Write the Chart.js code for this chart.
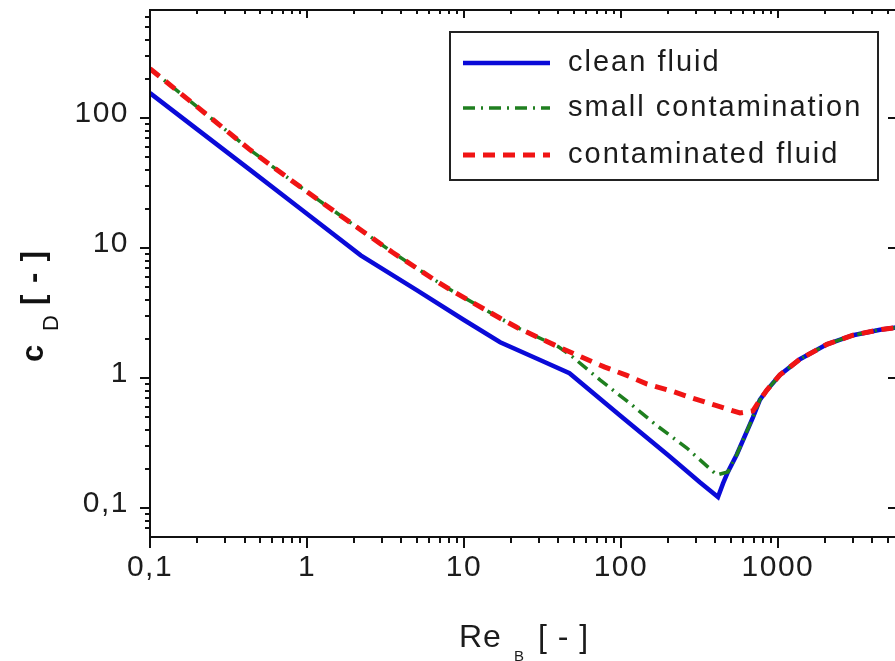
<!DOCTYPE html>
<html>
<head>
<meta charset="utf-8">
<title>cD over ReB</title>
<script src="https://cdn.jsdelivr.net/npm/chart.js@4.4.1/dist/chart.umd.min.js"></script>
<style>
  html, body { margin: 0; padding: 0; background: #fff; overflow: hidden; }
  #wrap { width: 895px; height: 661px; overflow: hidden; }
  canvas { display: block; }
</style>
</head>
<body>
<div id="wrap"><canvas id="cd" width="898" height="661"></canvas></div>
<script>
// values
const seriesLabels = ["clean fluid", "small contamination", "contaminated fluid"];

const reClean = [0.1, 0.2, 0.434, 0.9, 2.2, 5, 10, 17, 30, 47, 100, 200, 318, 415, 447, 480, 548, 693, 767, 851, 1030, 1380, 2050, 3010, 4470, 5650];
const cdClean = [156, 82, 40, 20.3, 8.8, 4.75, 2.8, 1.89, 1.39, 1.09, 0.51, 0.255, 0.158, 0.122, 0.155, 0.19, 0.26, 0.50, 0.68, 0.81, 1.06, 1.40, 1.82, 2.14, 2.36, 2.45];

const reSmall = [0.1, 0.2, 0.434, 0.8, 1.21, 1.88, 3.5, 6.35, 8.15, 16.9, 21.8, 40, 49.4, 73.5, 114, 170, 263, 408, 480, 548, 693, 767, 851, 1030, 1380, 2050, 3010, 4470, 5650];
const cdSmall = [240, 122, 57, 33, 23, 15.8, 9.3, 5.8, 4.8, 2.9, 2.45, 1.74, 1.45, 0.97, 0.64, 0.43, 0.29, 0.18, 0.19, 0.26, 0.50, 0.68, 0.81, 1.06, 1.40, 1.82, 2.14, 2.36, 2.45];

const reCont = [0.1, 0.2, 0.434, 0.8, 1.21, 1.88, 3.5, 6.35, 8.15, 16.9, 21.8, 40, 57, 79, 109, 147, 214, 288, 397, 573, 693, 767, 851, 1030, 1380, 2050, 3010, 4470, 5650];
const cdCont = [240, 122, 57, 33, 23, 15.8, 9.3, 5.8, 4.8, 2.9, 2.45, 1.74, 1.44, 1.215, 1.05, 0.90, 0.79, 0.70, 0.62, 0.54, 0.56, 0.68, 0.81, 1.06, 1.40, 1.82, 2.14, 2.36, 2.45];

const xTickValues = [0.1, 1, 10, 100, 1000];
const xTickLabels = ["0,1", "1", "10", "100", "1000"];
const yTickValues = [0.1, 1, 10, 100];
const yTickLabels = ["0,1", "1", "10", "100"];

const X_MIN = 0.1, X_MAX = 5650;
const Y_MIN = 0.06, Y_MAX = 679;

const pts = (xs, ys) => xs.map((x, i) => ({ x: x, y: ys[i] }));

function minorTicks(decades, lo, hi) {
  const out = [];
  decades.forEach(d => {
    for (let m = 2; m <= 9; m++) {
      const v = m * d;
      if (v > lo * 1.0001 && v < hi * 0.9999) out.push(v);
    }
  });
  return out;
}
const xMinor = minorTicks([0.1, 1, 10, 100, 1000], X_MIN, X_MAX);
const yMinor = minorTicks([0.01, 0.1, 1, 10, 100], Y_MIN, Y_MAX);

const INK = "#1c1c1c";

// frame + tick marks (out on left/bottom, in on top/right)
const frameTicks = {
  id: "frameTicks",
  beforeDraw(chart) {
    chart.ctx.letterSpacing = "1.5px";
  },
  afterDatasetsDraw(chart) {
    const { ctx, chartArea: a, scales: { x, y } } = chart;
    ctx.save();
    ctx.strokeStyle = "#111";
    ctx.lineWidth = 2;
    ctx.strokeRect(a.left, a.top, a.right - a.left, a.bottom - a.top);

    const tick = (x1, y1, x2, y2) => { ctx.moveTo(x1, y1); ctx.lineTo(x2, y2); };
    ctx.beginPath();
    xTickValues.forEach(v => {
      const px = Math.round(x.getPixelForValue(v));
      tick(px, a.bottom, px, a.bottom + 11);
      tick(px, a.top, px, a.top + 8);
    });
    xMinor.forEach(v => {
      const px = Math.round(x.getPixelForValue(v));
      tick(px, a.bottom, px, a.bottom + 6);
      tick(px, a.top, px, a.top + 4);
    });
    yTickValues.forEach(v => {
      const py = Math.round(y.getPixelForValue(v));
      tick(a.left, py, a.left - 10, py);
      tick(a.right, py, a.right - 8, py);
    });
    yMinor.forEach(v => {
      const py = Math.round(y.getPixelForValue(v));
      tick(a.left, py, a.left - 5, py);
    });
    ctx.stroke();
    ctx.restore();
  }
};

// boxed legend with line samples
const boxLegend = {
  id: "boxLegend",
  afterDatasetsDraw(chart) {
    const ctx = chart.ctx;
    const box = { left: 450, top: 32, right: 878, bottom: 180 };
    const rows = [63, 108, 155];
    ctx.save();
    ctx.fillStyle = "#fff";
    ctx.fillRect(box.left, box.top, box.right - box.left, box.bottom - box.top);
    ctx.strokeStyle = "#222";
    ctx.lineWidth = 2;
    ctx.strokeRect(box.left, box.top, box.right - box.left, box.bottom - box.top);

    seriesLabels.forEach((label, i) => {
      const ds = chart.data.datasets.find(d => d.label === label);
      ctx.beginPath();
      ctx.setLineDash(ds.borderDash || []);
      ctx.lineWidth = ds.borderWidth;
      ctx.strokeStyle = ds.borderColor;
      ctx.moveTo(463, rows[i]);
      ctx.lineTo(550, rows[i]);
      ctx.stroke();
      ctx.setLineDash([]);
      ctx.letterSpacing = "2px";
      ctx.font = "29px 'Liberation Sans', Arial, sans-serif";
      ctx.fillStyle = INK;
      ctx.textAlign = "left";
      ctx.textBaseline = "middle";
      ctx.fillText(label, 568, rows[i]);
    });
    ctx.restore();
  }
};

// axis titles with subscripts
const axisTitles = {
  id: "axisTitles",
  afterDraw(chart) {
    const ctx = chart.ctx;
    ctx.save();
    ctx.fillStyle = "#111";
    ctx.textAlign = "left";
    ctx.textBaseline = "alphabetic";

    // y: c_D [ - ]
    ctx.save();
    ctx.translate(43, 362);
    ctx.rotate(-Math.PI / 2);
    ctx.letterSpacing = "1.5px";
    ctx.font = "bold 31px 'Liberation Sans', Arial, sans-serif";
    ctx.fillText("c", 0, 0);
    ctx.font = "22px 'Liberation Sans', Arial, sans-serif";
    ctx.fillText("D", 31, 15);
    ctx.font = "bold 31px 'Liberation Sans', Arial, sans-serif";
    ctx.fillText("[ - ]", 57, 0);
    ctx.restore();

    // x: Re_B [ - ]
    ctx.letterSpacing = "1px";
    ctx.fillStyle = INK;
    ctx.font = "32px 'Liberation Sans', Arial, sans-serif";
    ctx.fillText("Re", 459, 647);
    ctx.font = "15px 'Liberation Sans', Arial, sans-serif";
    ctx.fillText("B", 514, 661);
    ctx.font = "32px 'Liberation Sans', Arial, sans-serif";
    ctx.fillText("[ - ]", 538, 647);
    ctx.restore();
  }
};

const tickFont = { family: "'Liberation Sans', Arial, sans-serif", size: 30 };

new Chart(document.getElementById("cd"), {
  type: "line",
  data: {
    datasets: [
      {
        label: "clean fluid",
        data: pts(reClean, cdClean),
        borderColor: "#0a0ad8",
        borderWidth: 4.5,
        order: 3
      },
      {
        label: "small contamination",
        data: pts(reSmall, cdSmall),
        borderColor: "#1f7f1f",
        borderWidth: 3.5,
        borderDash: [12, 6, 2, 6],
        order: 2
      },
      {
        label: "contaminated fluid",
        data: pts(reCont, cdCont),
        borderColor: "#f01414",
        borderWidth: 5,
        borderDash: [12, 8],
        order: 1
      }
    ]
  },
  options: {
    responsive: false,
    animation: false,
    events: [],
    layout: { padding: { top: 10, right: 2, left: 0, bottom: 0 } },
    elements: { point: { radius: 0 }, line: { tension: 0, fill: false } },
    plugins: { legend: { display: false }, tooltip: { enabled: false } },
    scales: {
      x: {
        type: "logarithmic",
        min: X_MIN,
        max: X_MAX,
        grid: { display: false, drawTicks: true, tickLength: 10 },
        border: { display: false },
        afterBuildTicks: s => { s.ticks = xTickValues.map(v => ({ value: v })); },
        afterFit: s => { s.height = 124; s.paddingLeft = 0; s.paddingRight = 0; },
        ticks: {
          autoSkip: false,
          maxRotation: 0,
          padding: 3,
          color: INK,
          font: tickFont,
          callback: (v, i) => xTickLabels[i]
        }
      },
      y: {
        type: "logarithmic",
        min: Y_MIN,
        max: Y_MAX,
        grid: { display: false, drawTicks: true, tickLength: 10 },
        border: { display: false },
        afterBuildTicks: s => { s.ticks = yTickValues.map(v => ({ value: v })); },
        afterFit: s => { s.width = 150; s.paddingTop = 0; s.paddingBottom = 0; },
        ticks: {
          autoSkip: false,
          padding: 11,
          labelOffset: -4,
          color: INK,
          font: tickFont,
          callback: (v, i) => yTickLabels[i]
        }
      }
    }
  },
  plugins: [frameTicks, boxLegend, axisTitles]
});
</script>
</body>
</html>
